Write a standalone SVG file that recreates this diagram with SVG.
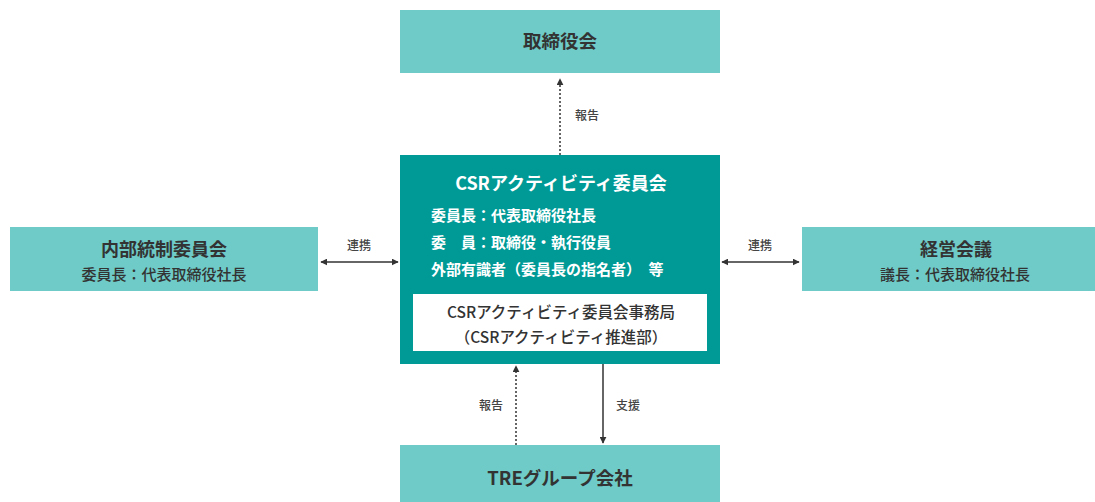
<svg xmlns="http://www.w3.org/2000/svg" width="1095" height="502" viewBox="0 0 1095 502">
<style>
.lt{fill:#6ecbc7}
.dk{fill:#009a96}
.t{font-family:"Noto Sans CJK JP","Noto Sans",sans-serif;fill:#333;font-weight:bold}
.m{font-family:"Noto Sans CJK JP","Noto Sans",sans-serif;fill:#333;font-weight:500}
.w{font-family:"Noto Sans CJK JP","Noto Sans",sans-serif;fill:#fff;font-weight:bold}
.l{font-family:"Noto Sans CJK JP",sans-serif;fill:#444;font-size:12px;font-weight:500}
.ln{stroke:#333;stroke-width:1.5;fill:none}
.dt{stroke-dasharray:2 2}
</style>
<defs>
<marker id="ah" viewBox="0 0 10 10" refX="9" refY="5" markerWidth="7" markerHeight="7" orient="auto-start-reverse" markerUnits="userSpaceOnUse"><path d="M0,0L10,5L0,10z" fill="#333"/></marker>
</defs>
<rect width="1095" height="502" fill="#fff"/>
<g id="connectors">
<line class="ln dt" x1="560" y1="155" x2="560" y2="79" marker-end="url(#ah)"/>
<text class="l" x="587" y="120" text-anchor="middle">報告</text>
<line class="ln dt" x1="516" y1="445" x2="516" y2="366" marker-end="url(#ah)"/>
<text class="l" x="491" y="410" text-anchor="middle">報告</text>
<line class="ln" x1="603" y1="364" x2="603" y2="443" marker-end="url(#ah)"/>
<text class="l" x="628" y="410" text-anchor="middle">支援</text>
<line class="ln" x1="321" y1="262" x2="398" y2="262" marker-start="url(#ah)" marker-end="url(#ah)"/>
<text class="l" x="359" y="250" text-anchor="middle">連携</text>
<line class="ln" x1="722" y1="262" x2="799" y2="262" marker-start="url(#ah)" marker-end="url(#ah)"/>
<text class="l" x="760" y="250" text-anchor="middle">連携</text>
</g>
<g id="board">
<rect class="lt" x="400" y="10" width="320" height="63"/>
<text class="t" x="560" y="48" font-size="18.5" text-anchor="middle">取締役会</text>
</g>
<g id="csr">
<rect class="dk" x="400" y="155" width="320" height="209"/>
<text class="w" x="561" y="190" font-size="18" text-anchor="middle">CSRアクティビティ委員会</text>
<text class="w" x="431" y="221" font-size="15">委員長：代表取締役社長</text>
<text class="w" x="431" y="248" font-size="15">委　員：取締役・執行役員</text>
<text class="w" x="431" y="275" font-size="15">外部有識者（委員長の指名者）　等</text>
<rect x="413" y="294" width="294" height="57" fill="#fff"/>
<text class="m" x="561" y="318" font-size="15.5" text-anchor="middle">CSRアクティビティ委員会事務局</text>
<text class="m" x="561" y="343" font-size="15.5" text-anchor="middle">（CSRアクティビティ推進部）</text>
</g>
<g id="internal">
<rect class="lt" x="10" y="227" width="308" height="64"/>
<text class="t" x="164" y="256" font-size="18" text-anchor="middle">内部統制委員会</text>
<text class="m" x="164" y="280" font-size="15" text-anchor="middle">委員長：代表取締役社長</text>
</g>
<g id="mgmt">
<rect class="lt" x="802" y="227" width="293" height="64"/>
<text class="t" x="956" y="256" font-size="18" text-anchor="middle">経営会議</text>
<text class="m" x="955" y="280" font-size="15" text-anchor="middle">議長：代表取締役社長</text>
</g>
<g id="group">
<rect class="lt" x="400" y="445" width="320" height="57"/>
<text class="t" x="560" y="485" font-size="18.5" text-anchor="middle">TREグループ会社</text>
</g>
</svg>
